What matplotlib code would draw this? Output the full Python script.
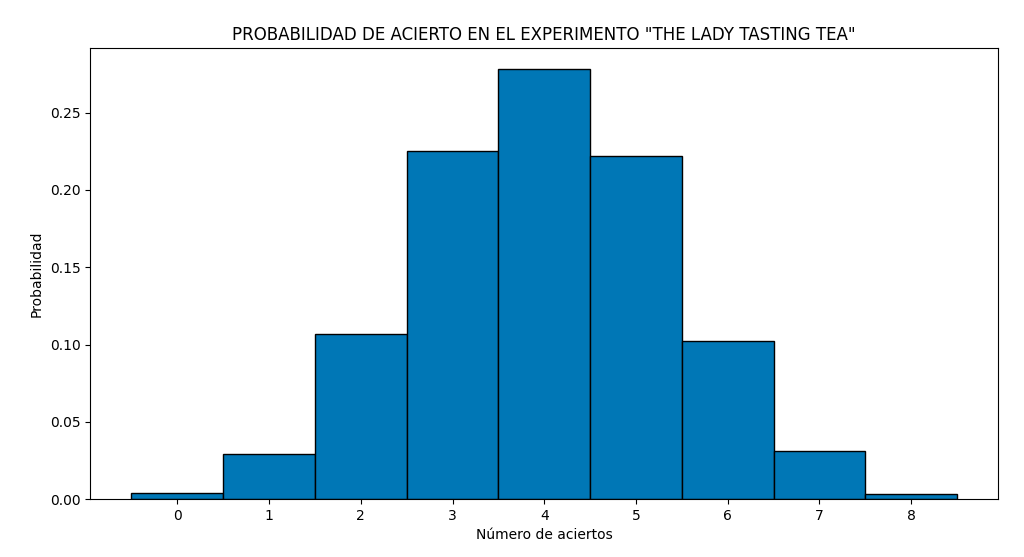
import numpy as np
import matplotlib
matplotlib.use('Agg')
import matplotlib.pyplot as plt

aciertos = [0, 1, 2, 3, 4, 5, 6, 7, 8]
probabilidad = [0.004, 0.029, 0.107, 0.225, 0.278, 0.222, 0.102, 0.031, 0.003]

fig = plt.figure(figsize=(10.24, 5.57), dpi=100)
ax = fig.add_axes([0.088, 0.104, 0.887, 0.81])
ax.bar(aciertos, probabilidad, width=1.0, color='#0077b6', edgecolor='black')
ax.set_xticks(aciertos)
ax.set_title('PROBABILIDAD DE ACIERTO EN EL EXPERIMENTO "THE LADY TASTING TEA"')
ax.set_xlabel('Número de aciertos')
ax.set_ylabel('Probabilidad')
fig.savefig('out.png')
